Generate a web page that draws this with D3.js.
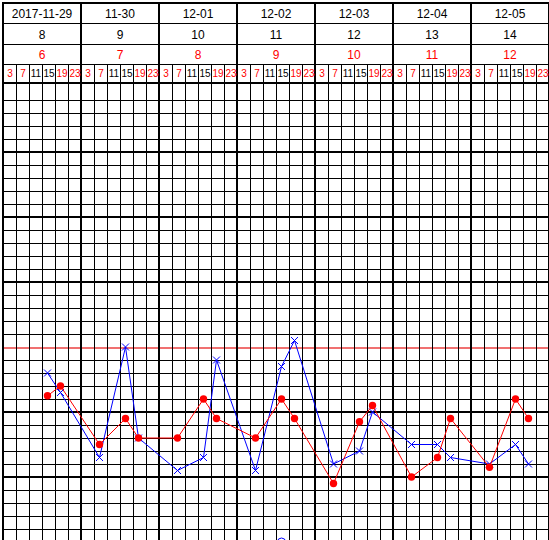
<!DOCTYPE html>
<html><head><meta charset="utf-8">
<script src="https://cdn.jsdelivr.net/npm/d3@7"></script>
<style>html,body{margin:0;padding:0;background:#fff;overflow:hidden}svg{display:block}</style>
</head><body>
<script>
// ---- data ----
const dates = ["2017-11-29","11-30","12-01","12-02","12-03","12-04","12-05"];
const hospitalDays = [8,9,10,11,12,13,14];
const postOpDays = [6,7,8,9,10,11,12];
const hours = [3,7,11,15,19,23];
const hourColors = ["red","red","black","black","red","red"];
const measureDay  = [0,0, 1,1,1, 2,2,2, 3,3,3, 4,4,4, 5,5,5, 6,6,6];
const measureHour = [15,19, 7,15,19, 7,15,19, 7,15,19, 7,15,19, 7,15,19, 7,15,19];
const temperature = [36.6,36.3, 35.3,37.0,35.6, 35.1,35.3,36.8, 35.1,36.7,37.1, 35.2,35.4,36.0, 35.5,35.5,35.3, 35.2,35.5,35.2];
const pulse       = [65,68, 50,58,52, 52,64,58, 52,64,58, 38,57,62, 40,46,58, 43,64,58];
const otherDay = [3], otherHour = [15], otherTemp = [34.0];

// ---- layout ----
const W = 549, H = 540;
const left = 3, slotW = 13;
const nSlots = dates.length * hours.length;
const rowY = [3, 23, 44, 64, 83];
const x = d3.scaleLinear().domain([0, nSlots]).range([left, left + nSlots * slotW]);
const yT = d3.scaleLinear().domain([35, 42]).range([477, 22]);
const yP = d3.scaleLinear().domain([40, 180]).range([477, 22]);
const slotOf = (d, h) => d * hours.length + hours.indexOf(h);
const mx = (d, h) => x(slotOf(d, h)) + 5.5;

const svg = d3.select("body").append("svg").attr("width", W).attr("height", H)
  .style("font-family", "'Liberation Sans', Arial, sans-serif");

const g = svg.append("g").attr("shape-rendering", "crispEdges");

// horizontal grid lines in chart body
const ks = d3.range(-15, 20);
ks.forEach(k => {
  const t = 37 + k * 0.2;
  const y = Math.round(yT(t));
  if (y < rowY[4] + 5 || y > H + 2) return;
  if (k === 0) {
    g.append("line").attr("x1", left).attr("x2", W).attr("y1", y + 1).attr("y2", y + 1)
      .attr("stroke", "#f07070").attr("stroke-width", 2);
  } else if (k % 5 === 0) {
    g.append("line").attr("x1", left).attr("x2", W).attr("y1", y).attr("y2", y)
      .attr("stroke", "#000").attr("stroke-width", 2);
  } else {
    g.append("line").attr("x1", left).attr("x2", W).attr("y1", y + 0.5).attr("y2", y + 0.5)
      .attr("stroke", "#000").attr("stroke-width", 1);
  }
});

// header row lines
rowY.forEach((y, i) => {
  if (i === 0) {
    g.append("line").attr("x1", left - 1).attr("x2", W).attr("y1", y).attr("y2", y)
      .attr("stroke", "#000").attr("stroke-width", 2);
  } else if (i === 4) {
    g.append("line").attr("x1", left).attr("x2", W).attr("y1", y).attr("y2", y)
      .attr("stroke", "#000").attr("stroke-width", 2);
  } else {
    g.append("line").attr("x1", left).attr("x2", W).attr("y1", y + 0.5).attr("y2", y + 0.5)
      .attr("stroke", "#000").attr("stroke-width", 1);
  }
});

// vertical lines
d3.range(0, nSlots + 1).forEach(i => {
  const xv = x(i);
  if (i % hours.length === 0) {
    g.append("line").attr("x1", xv).attr("x2", xv).attr("y1", rowY[0] - 1).attr("y2", H)
      .attr("stroke", "#000").attr("stroke-width", 2);
  } else {
    g.append("line").attr("x1", xv + 0.5).attr("x2", xv + 0.5).attr("y1", rowY[3]).attr("y2", H)
      .attr("stroke", "#000").attr("stroke-width", 1);
  }
});

// header texts
const dayCenter = d => x(d * hours.length + hours.length / 2);
svg.append("g").selectAll("text").data(dates).join("text")
  .attr("x", (d, i) => dayCenter(i)).attr("y", 18).attr("text-anchor", "middle")
  .attr("font-size", 12).attr("fill", "#000").text(d => d);
svg.append("g").selectAll("text").data(hospitalDays).join("text")
  .attr("x", (d, i) => dayCenter(i)).attr("y", 38.5).attr("text-anchor", "middle")
  .attr("font-size", 12).attr("fill", "#000").text(d => d);
svg.append("g").selectAll("text").data(postOpDays).join("text")
  .attr("x", (d, i) => dayCenter(i)).attr("y", 58.5).attr("text-anchor", "middle")
  .attr("font-size", 12).attr("fill", "#ff0000").text(d => d);
const hourCells = d3.range(nSlots).map(i => ({i, h: hours[i % hours.length], c: hourColors[i % hours.length]}));
svg.append("g").selectAll("text").data(hourCells).join("text")
  .attr("x", d => x(d.i) + slotW / 2 + 0.5).attr("y", 77).attr("text-anchor", "middle")
  .attr("font-size", 10).attr("fill", d => d.c === "red" ? "#ff0000" : "#000").text(d => d.h);

// ---- series ----
const tempPts = temperature.map((v, i) => ({x: mx(measureDay[i], measureHour[i]), y: yT(v)}));
const pulsePts = pulse.map((v, i) => ({x: mx(measureDay[i], measureHour[i]), y: yP(v)}));
const line = d3.line().x(d => d.x).y(d => d.y);

svg.append("path").attr("d", line(tempPts)).attr("fill", "none").attr("stroke", "#0000ff").attr("stroke-width", 1);
svg.append("g").selectAll("path").data(tempPts).join("path")
  .attr("d", d => `M${d.x - 3.5},${d.y - 3.5}L${d.x + 3.5},${d.y + 3.5}M${d.x + 3.5},${d.y - 3.5}L${d.x - 3.5},${d.y + 3.5}`)
  .attr("stroke", "#0000ff").attr("stroke-width", 1).attr("fill", "none");

svg.append("path").attr("d", line(pulsePts)).attr("fill", "none").attr("stroke", "#ff0000").attr("stroke-width", 1);
svg.append("g").selectAll("circle").data(pulsePts).join("circle")
  .attr("cx", d => d.x).attr("cy", d => d.y).attr("r", 3.7).attr("fill", "#ff0000");

svg.append("g").selectAll("circle").data(otherTemp).join("circle")
  .attr("cx", (v, i) => mx(otherDay[i], otherHour[i])).attr("cy", v => yT(v))
  .attr("r", 4).attr("fill", "none").attr("stroke", "#0000ff").attr("stroke-width", 1);
</script>
</body></html>
